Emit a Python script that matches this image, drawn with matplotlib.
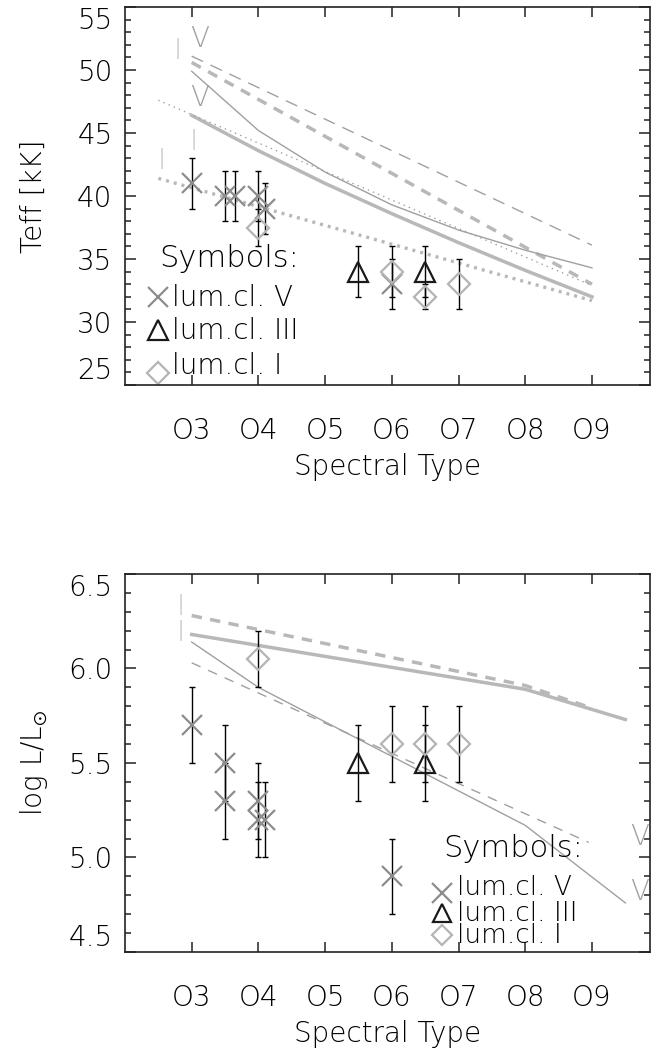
import matplotlib.pyplot as plt
import numpy as np
from matplotlib.ticker import FixedLocator, MultipleLocator

plt.rcParams['font.family'] = ['DejaVu Sans']
plt.rcParams['font.weight'] = 'light'
plt.rcParams['axes.labelweight'] = 'light'

# spectral subtypes on the x axis
sp_ticks = [3, 4, 5, 6, 7, 8, 9]
sp_labels = ["O3", "O4", "O5", "O6", "O7", "O8", "O9"]

# --- Teff panel: observed stars (kK) ---
teff_V_x = [3.0, 3.5, 3.65, 4.0, 4.1, 6.0]
teff_V_y = [41, 40, 40, 40, 39, 33]
teff_V_err = [2, 2, 2, 2, 2, 2]
teff_III_x = [5.5, 6.5]
teff_III_y = [34, 34]
teff_III_err = [2, 2]
teff_I_x = [4.0, 6.0, 6.5, 7.0]
teff_I_y = [37.5, 34, 32, 33]
teff_I_err = [1.5, 2, 1, 2]

# --- Teff panel: calibrations ---
cal1_x = [3, 9]
cal1_y = [51.1, 36.1]                 # thin dashed
cal2_x = [3, 9]
cal2_y = [50.6, 33.0]                 # thick dashed
cal3_x = [3, 4, 5, 6, 7, 8, 9]
cal3_y = [49.9, 45.2, 41.9, 39.3, 37.3, 35.7, 34.3]   # thin solid
cal4_x = [3, 4, 5, 6, 7, 8, 9]
cal4_y = [46.4, 43.6, 41.0, 38.6, 36.3, 34.1, 32.0]   # thick solid
cal5_x = [2.5, 9]
cal5_y = [47.6, 32.9]                 # thin dotted
cal6_x = [2.5, 9]
cal6_y = [41.4, 31.7]                 # thick dotted

# --- log L panel: observed stars ---
lum_V_x = [3.0, 3.5, 3.5, 4.0, 4.0, 4.1, 6.0]
lum_V_y = [5.7, 5.5, 5.3, 5.3, 5.2, 5.2, 4.9]
lum_V_err = [0.2, 0.2, 0.2, 0.2, 0.2, 0.2, 0.2]
lum_III_x = [5.5, 6.5]
lum_III_y = [5.5, 5.5]
lum_III_err = [0.2, 0.2]
lum_I_x = [4.0, 6.0, 6.5, 7.0]
lum_I_y = [6.05, 5.6, 5.6, 5.6]
lum_I_err = [0.15, 0.2, 0.2, 0.2]

# --- log L panel: calibrations ---
lcal1_x = [3, 8, 9.5]
lcal1_y = [6.18, 5.89, 5.73]          # thick solid
lcal2_x = [3, 8, 9]
lcal2_y = [6.28, 5.91, 5.79]          # thick dashed
lcal3_x = [3, 4, 8, 9.5]
lcal3_y = [6.14, 5.90, 5.17, 4.76]    # thin solid
lcal4_x = [3, 8.95]
lcal4_y = [6.03, 5.08]                # thin dashed

thin_c = '#a0a0a0'
thick_c = '#b8b8b8'
cross_c = '#8c8c8c'
diam_c = '#b4b4b4'
tri_c = '#1a1a1a'
fs = 20

fig = plt.figure(figsize=(6.68, 10.48), dpi=100)
ax1 = fig.add_axes([0.1871, 0.6326, 0.786, 0.3607])
ax2 = fig.add_axes([0.1871, 0.0916, 0.786, 0.3607])


def style_axes(ax, ylo, yhi, ymaj, ymin, fmt):
    ax.set_xlim(2.0, 9.87)
    ax.set_ylim(ylo, yhi)
    ax.xaxis.set_major_locator(FixedLocator(sp_ticks))
    ax.set_xticklabels(sp_labels)
    yt = np.arange(ylo, yhi + ymaj / 2, ymaj)
    ax.yaxis.set_major_locator(FixedLocator(yt))
    ax.yaxis.set_minor_locator(MultipleLocator(ymin))
    ax.set_yticklabels([fmt % v for v in yt])
    ax.tick_params(which='both', direction='in', top=True, right=True,
                   width=1.1, labelsize=fs, color='#222222')
    ax.tick_params(axis='x', which='major', length=7, pad=23)
    ax.tick_params(axis='y', which='major', length=8, pad=9)
    ax.tick_params(axis='y', which='minor', length=4)
    for s in ax.spines.values():
        s.set_linewidth(1.2)
        s.set_color('#222222')
    ticks = ax.yaxis.get_major_ticks()
    ticks[0].label1.set_verticalalignment('bottom')
    ticks[-1].label1.set_verticalalignment('top')
    ax.set_xlabel("Spectral Type", fontsize=fs)
    ax.xaxis.set_label_coords(0.5, -0.216)
    ax.xaxis.label.set_verticalalignment('center')


def stars(ax, x, y, err, marker, color, ms, mew):
    ax.errorbar(x, y, yerr=err, fmt='none', ecolor='black', elinewidth=1,
                capsize=2.5, capthick=1, zorder=3)
    ax.plot(x, y, linestyle='none', marker=marker, ms=ms, mew=mew,
            mec=color, mfc='none', zorder=4)


def key(ax, x, y, marker, color, ms):
    ax.plot([x], [y], transform=ax.transAxes, marker=marker, ms=ms,
            mew=1.6, mec=color, mfc='none', ls='none', clip_on=False)


# ---------------- top panel ----------------
style_axes(ax1, 25, 55, 5, 1, '%d')
ax1.plot(cal1_x, cal1_y, color=thin_c, lw=1, dashes=(9, 6))
ax1.plot(cal2_x, cal2_y, color=thick_c, lw=2.5, dashes=(3, 2.4))
ax1.plot(cal3_x, cal3_y, color=thin_c, lw=1)
ax1.plot(cal4_x, cal4_y, color=thick_c, lw=2.5)
ax1.plot(cal5_x, cal5_y, color=thin_c, lw=1, dashes=(1, 3))
ax1.plot(cal6_x, cal6_y, color=thick_c, lw=2.4, dashes=(0.9, 1.5))

stars(ax1, teff_V_x, teff_V_y, teff_V_err, 'x', cross_c, 15, 1.6)
stars(ax1, teff_III_x, teff_III_y, teff_III_err, '^', tri_c, 14, 1.6)
stars(ax1, teff_I_x, teff_I_y, teff_I_err, 'D', diam_c, 11, 1.6)

for tx, ty, t, c in [(3.12, 52.5, 'V', thin_c), (2.79, 51.5, 'I', '#c8c8c8'),
                     (3.12, 47.8, 'V', thin_c), (3.03, 44.3, 'I', '#c8c8c8'),
                     (2.55, 42.8, 'I', '#c8c8c8')]:
    ax1.text(tx, ty, t, color=c, fontsize=fs, ha='center', va='center')

ax1.set_ylabel("Teff [kK]", fontsize=fs, va='center')
ax1.yaxis.set_label_coords(-0.173, 0.5)

ax1.text(0.065, 0.312, "Symbols:", transform=ax1.transAxes, fontsize=fs + 2,
         va='baseline')
key(ax1, 0.063, 0.233, 'x', cross_c, 15)
key(ax1, 0.063, 0.146, '^', tri_c, 14)
key(ax1, 0.063, 0.032, 'D', diam_c, 11)
ax1.text(0.0895, 0.209, "lum.cl. V", transform=ax1.transAxes, fontsize=fs, va='baseline')
ax1.text(0.0895, 0.122, "lum.cl. III", transform=ax1.transAxes, fontsize=fs, va='baseline')
ax1.text(0.0895, 0.029, "lum.cl. I", transform=ax1.transAxes, fontsize=fs, va='baseline')

# ---------------- bottom panel ----------------
style_axes(ax2, 4.5, 6.5, 0.5, 0.1, '%.1f')
ax2.plot(lcal1_x, lcal1_y, color=thick_c, lw=2.5)
ax2.plot(lcal2_x, lcal2_y, color=thick_c, lw=2.5, dashes=(3, 2.4))
ax2.plot(lcal3_x, lcal3_y, color=thin_c, lw=1)
ax2.plot(lcal4_x, lcal4_y, color=thin_c, lw=1, dashes=(7, 6))

stars(ax2, lum_V_x, lum_V_y, lum_V_err, 'x', cross_c, 15, 1.6)
stars(ax2, lum_III_x, lum_III_y, lum_III_err, '^', tri_c, 14, 1.6)
stars(ax2, lum_I_x, lum_I_y, lum_I_err, 'D', diam_c, 11, 1.6)

for tx, ty, t, c in [(2.84, 6.325, 'I', '#c8c8c8'), (2.84, 6.19, 'I', '#c8c8c8'),
                     (9.72, 5.11, 'V', thin_c), (9.72, 4.82, 'V', thin_c)]:
    ax2.text(tx, ty, t, color=c, fontsize=fs, ha='center', va='center')

ax2.set_ylabel(r"log L/L$_{\odot}$", fontsize=fs, va='center')
ax2.yaxis.set_label_coords(-0.173, 0.5)

ax2.text(0.606, 0.251, "Symbols:", transform=ax2.transAxes, fontsize=fs + 2,
         va='baseline')
key(ax2, 0.604, 0.156, 'x', cross_c, 14)
key(ax2, 0.604, 0.103, '^', tri_c, 13)
key(ax2, 0.604, 0.045, 'D', diam_c, 10)
ax2.text(0.632, 0.151, "lum.cl. V", transform=ax2.transAxes, fontsize=fs - 1, va='baseline')
ax2.text(0.632, 0.082, "lum.cl. III", transform=ax2.transAxes, fontsize=fs - 1, va='baseline')
ax2.text(0.632, 0.024, "lum.cl. I", transform=ax2.transAxes, fontsize=fs - 1, va='baseline')

fig.savefig("out.png", dpi=100)
